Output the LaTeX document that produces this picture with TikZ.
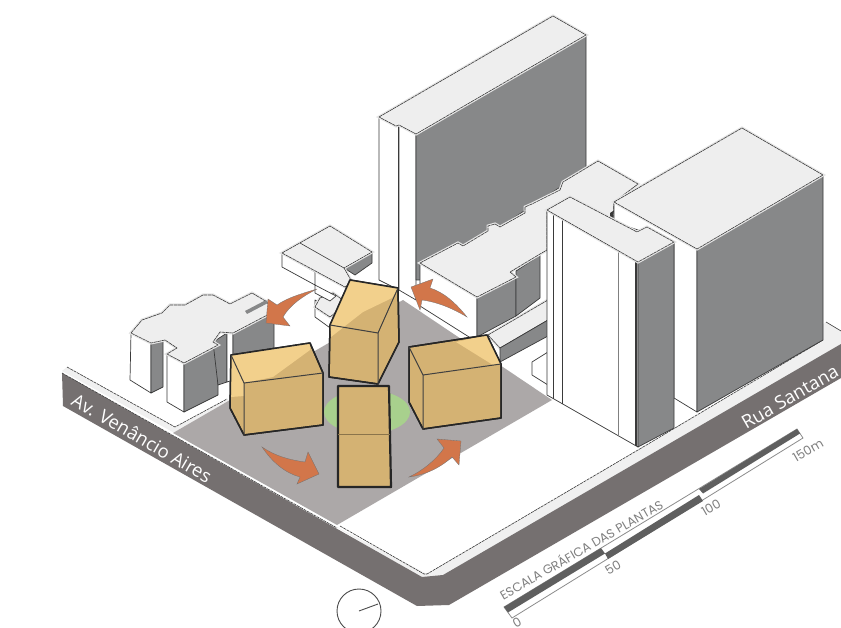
\documentclass[tikz,border=0pt]{standalone}
\usepackage{fontspec}
\setmainfont{Open Sans}
\newfontfamily\scalefont{Poppins}
\definecolor{roofc}{HTML}{EEEEEE}
\definecolor{wallc}{HTML}{FFFFFF}
\definecolor{shadec}{HTML}{878889}
\definecolor{edgec}{HTML}{3A3A3A}
\definecolor{roadc}{HTML}{757070}
\definecolor{sitec}{HTML}{ACA8A8}
\definecolor{greenc}{HTML}{A8D08D}
\definecolor{bodyc}{HTML}{D4B273}
\definecolor{lightc}{HTML}{F2D08C}
\definecolor{arrowc}{HTML}{D2764A}
\definecolor{walkc}{HTML}{F0F0F0}
\definecolor{barc}{HTML}{5F5F5F}
\tikzset{
 roof/.style={fill=roofc,draw=edgec,line width=0.6pt,line join=round,dash pattern=on 3.5pt off 0.6pt,preaction={draw=black!10,line width=3pt,solid}},
 wall/.style={fill=wallc,draw=edgec,line width=0.7pt,line join=round},
 shade/.style={fill=shadec,draw=edgec,line width=0.7pt,line join=round},
 thin edge/.style={draw=edgec,line width=0.6pt},
 mass/.style={fill=bodyc,draw=black!85,line width=1.5pt,line join=round},
 light/.style={fill=lightc,draw=none},
 inner edge/.style={draw=black!75,line width=1pt},
 turn/.style={fill=arrowc,draw=black!55,line width=0.3pt,line join=miter},
 street/.style={text=white,font=\fontsize{18.5}{18.5}\selectfont,inner sep=0pt},
 scale label/.style={text=black!50,font=\scalefont\fontsize{12.5}{12.5}\selectfont,inner sep=0pt,rotate=30}
}
\begin{document}
\begin{tikzpicture}[x=1pt,y=-1pt]
\useasboundingbox (0,0) rectangle (841,628);
\clip (0,0) rectangle (841,628);
\fill[white] (0,0) rectangle (841,628);
% sidewalks
\fill[walkc] (62,371) -- (67,367) -- (175,427) -- (227,399) -- (240,410) -- (180,436) -- cycle;
\fill[walkc] (333,525) -- (427,574) -- (638,450) -- (823,340) -- (841,331) -- (841,345) -- (443,577) -- (422,579) -- cycle;
\fill[walkc] (826,322) -- (841,331) -- (823,342) -- (815,330) -- cycle;
% road
\fill[roadc] (62,373) -- (422,577) -- (443,575) -- (841,344) -- (841,378) -- (449,605) -- (417,606) -- (63,406) -- cycle;
% site
\fill[sitec] (173,433) -- (403,300) -- (552,400) -- (337,525) -- cycle;
\draw[thin edge,dash pattern=on 3pt off 0.8pt] (67,367) -- (175,427) -- (227,399);
\draw[thin edge,dash pattern=on 3pt off 0.8pt] (62,373) -- (337,528);
\draw[thin edge,dash pattern=on 3pt off 0.8pt] (340,526) -- (424,574) -- (427,574) -- (638,450) -- (823,340);
\draw[thin edge] (826,322) -- (841,331);
\fill[greenc] (367,412) ellipse [x radius=43,y radius=22];
% tall back building
\path[wall] (379,117) -- (399,125) -- (399,290) -- (379,280) -- cycle;
\path[wall] (399,125) -- (416,134) -- (416,300) -- (399,290) -- cycle;
\draw[edgec,line width=1.8pt] (398.5,125) -- (398.5,288);
\path[shade] (416,134) -- (586,35) -- (586,170) -- (420,280) -- (416,280) -- cycle;
\path[roof] (379,117) -- (553,16) -- (586,35) -- (416,134) -- (399,125) -- (396,126) -- cycle;
% mid building
\path[wall] (420,263) -- (477,297) -- (477,342) -- (420,306) -- cycle;
\path[shade] (477,297) -- (516,277) -- (516,316) -- (477,337) -- cycle;
\path[shade] (516,271) -- (540,255) -- (540,298) -- (516,316) -- cycle;
\path[roof] (488,335) -- (548,300) -- (548,320) -- (500,348) -- cycle;
\path[shade] (500,348) -- (548,320) -- (548,336) -- (500,362) -- cycle;
\path[wall] (532,362) -- (548,352) -- (548,385) -- (532,375) -- cycle;
\path[roof] (420,263) -- (458,243) -- (463,246) -- (488,231) -- (488,226) -- (495,224) -- (500,227) -- (525,213) -- (525,207) -- (532,204) -- (560,190) -- (563,182) -- (598,161) -- (638,184) -- (614,202) -- (613,220) -- (570,197) -- (547,210) -- (547,250) -- (540,254) -- (510,272) -- (516,277) -- (477,297) -- cycle;
\fill[edgec] (610,213) -- (613,211) -- (613,219) -- (610,217) -- cycle;
% big tower
\path[wall] (614,202) -- (697,249) -- (697,412) -- (674,398) -- (674,242) -- (614,222) -- cycle;
\path[shade] (697,249) -- (823,175) -- (823,340) -- (697,412) -- cycle;
\path[roof] (614,202) -- (742,128) -- (823,175) -- (697,249) -- cycle;
% mid-right tower
\path[wall] (547,210) -- (638,262) -- (638,447) -- (547,395) -- cycle;
\draw[edgec,line width=0.6pt] (553,213) -- (553,399);
\draw[edgec,line width=0.9pt] (562,219) -- (562,404);
\draw[black!50,line width=0.8pt] (618,251) -- (618,436);
\draw[edgec,line width=1.4pt] (636,261) -- (636,446);
\path[shade] (638,262) -- (674,242) -- (674,428) -- (638,447) -- cycle;
\path[roof] (547,210) -- (570,197) -- (637,232) -- (647,227) -- (674,242) -- (638,262) -- cycle;
% small back building
\path[wall] (282,253) -- (315,272) -- (315,285) -- (282,267) -- cycle;
\path[shade] (344,268) -- (372,252) -- (372,263) -- (355,275) -- cycle;
\path[roof] (282,253) -- (330,226) -- (372,252) -- (344,268) -- (352,282) -- (345,287) -- cycle;
\draw[thin edge] (300,243) -- (344,268);
\path[wall] (315,300) -- (333,311) -- (333,330) -- (315,317) -- cycle;
\path[roof] (320,298) -- (333,293) -- (347,303) -- (330,317) -- (315,307) -- cycle;
\path[wall] (315,285) -- (336,296) -- (330,301) -- (315,293) -- cycle;
% left building
\path[wall] (131,333) -- (151,343) -- (151,393) -- (130,380) -- cycle;
\path[shade] (151,343) -- (163,340) -- (163,387) -- (151,393) -- cycle;
\path[wall] (167,354) -- (184,363) -- (184,412) -- (167,402) -- cycle;
\path[shade] (184,363) -- (218,345) -- (218,395) -- (184,412) -- cycle;
\path[shade] (213,342) -- (227,333) -- (227,382) -- (218,385) -- cycle;
\path[wall] (227,333) -- (233,333) -- (233,380) -- (227,382) -- cycle;
\path[shade] (233,333) -- (274,312) -- (274,360) -- (233,375) -- cycle;
\path[roof] (131,333) -- (142,320) -- (162,313) -- (170,305) -- (185,305) -- (203,295) -- (213,295) -- (230,304) -- (252,293) -- (267,302) -- (273,312) -- (233,333) -- (220,332) -- (213,342) -- (218,345) -- (184,363) -- (167,354) -- (177,348) -- (165,340) -- (151,343) -- cycle;
\fill[shadec] (245,311) -- (266,300) -- (268,303) -- (247,314) -- cycle;
% block left
\path[mass] (231,355) -- (310,343) -- (323,373) -- (323,425) -- (244,435) -- (230,408) -- cycle;
\fill[light] (231,355) -- (310,343) -- (310,350) -- (273,377) -- (244,383) -- (244,396) -- (231,397) -- cycle;
\draw[mass,fill=none] (231,355) -- (310,343) -- (323,373) -- (323,425) -- (244,435) -- (230,408) -- cycle;
\draw[inner edge] (231,355) -- (244,383) -- (323,373) (244,383) -- (244,435);
% block top centre
\path[mass] (350,280) -- (398,288) -- (399,342) -- (378,384) -- (329,377) -- (330,325) -- cycle;
\fill[light] (350,280) -- (398,288) -- (392,298) -- (363,312) -- (331,337) -- (330,325) -- cycle;
\draw[mass,fill=none] (350,280) -- (398,288) -- (399,342) -- (378,384) -- (329,377) -- (330,325) -- cycle;
\draw[inner edge] (330,325) -- (378,333) -- (398,288) (378,333) -- (378,384);
% block right
\path[mass] (409,347) -- (487,335) -- (501,364) -- (501,418) -- (423,429) -- (409,402) -- cycle;
\fill[light] (456,342) -- (487,335) -- (501,364) -- (493,365) -- cycle;
\draw[mass,fill=none] (409,347) -- (487,335) -- (501,364) -- (501,418) -- (423,429) -- (409,402) -- cycle;
\draw[inner edge] (409,347) -- (423,375) -- (501,364) (423,375) -- (423,429);
% block centre
\path[mass,line width=2.2pt] (338,386) -- (389,386) -- (391,487) -- (338,487) -- cycle;
\draw[bodyc!65!black,line width=1pt] (338,434) -- (390,434);
% arrows
\path[turn] (262,447) .. controls (275,456) and (290,460) .. (305,462) -- (308,452) -- (319,474) -- (297,484) -- (300,477) .. controls (285,473) and (272,462) .. (262,447) -- cycle;
\path[turn] (409,477) .. controls (422,471) and (436,460) .. (444,448) -- (437,439) -- (461,441) -- (459,465) -- (452,457) .. controls (440,468) and (425,475) .. (409,477) -- cycle;
\path[turn] (467,317) .. controls (455,302) and (443,292) .. (430,288) -- (433,279) -- (411,287) -- (420,310) -- (422,300) .. controls (437,302) and (452,308) .. (467,317) -- cycle;
\path[turn] (317,289) .. controls (300,294) and (287,298) .. (277,305) -- (268,299) -- (266,323) -- (290,326) -- (283,317) .. controls (290,305) and (303,296) .. (317,289) -- cycle;
% labels
\node[street,rotate=-30] (venancio) at (142,438) {Av. Venâncio Aires};
\node[street,rotate=30] (santana) at (790,397) {Rua Santana};
% scale bar
\draw[black!45,line width=0.8pt,fill=white] (504,607) -- (797,429) -- (803,438) -- (512,618) -- cycle;
\fill[barc] (504,607) -- (601,548) -- (605,553.5) -- (508,612.5) -- cycle;
\fill[barc] (605,553.5) -- (699,495) -- (703,501) -- (608,559) -- cycle;
\fill[barc] (699,489) -- (797,429) -- (800,433.5) -- (703,493.5) -- cycle;
\node[scale label] (esc) at (581,549) {ESCALA GRÁFICA DAS PLANTAS};
\node[scale label] (n0) at (517,623) {0};
\node[scale label] (n50) at (613,568) {50};
\node[scale label] (n100) at (711,508) {100};
\node[scale label] (n150) at (808,450) {150m};
% compass
\draw[black!70,line width=0.9pt] (359,611) circle [radius=22];
\draw[black!70,line width=0.9pt] (359,611) -- (378,604);
\end{tikzpicture}
\end{document}
